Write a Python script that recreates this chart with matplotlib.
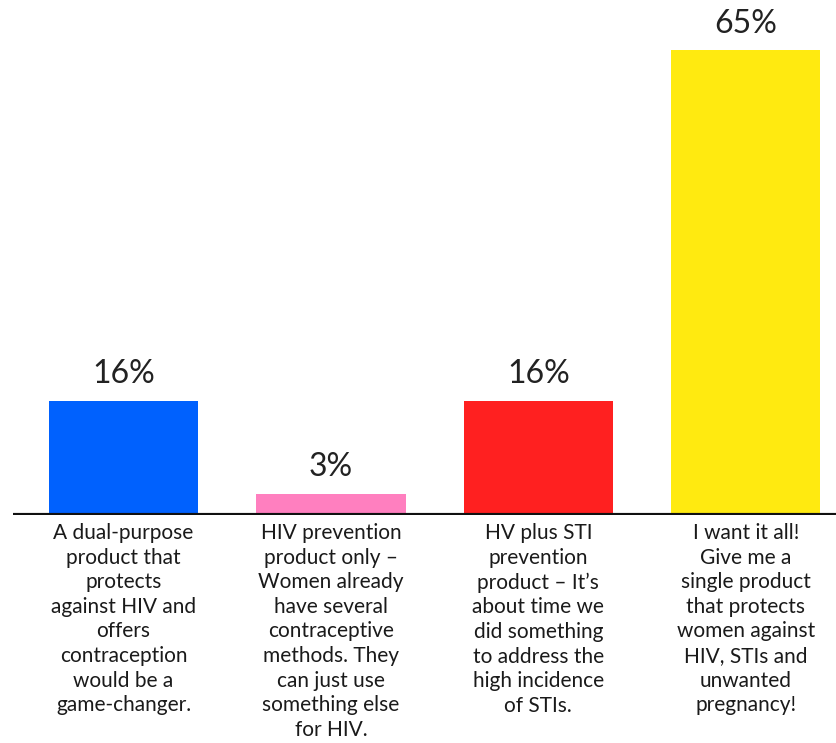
import numpy as np
import matplotlib.pyplot as plt

# chart data
labels = [
    "A dual-purpose\nproduct that\nprotects\nagainst HIV and\noffers\ncontraception\nwould be a\ngame-changer.",
    "HIV prevention\nproduct only \u2013\nWomen already\nhave several\ncontraceptive\nmethods. They\ncan just use\nsomething else\nfor HIV.",
    "HV plus STI\nprevention\nproduct \u2013 It\u2019s\nabout time we\ndid something\nto address the\nhigh incidence\nof STIs.",
    "I want it all!\nGive me a\nsingle product\nthat protects\nwomen against\nHIV, STIs and\nunwanted\npregnancy!",
]
values = [16, 3, 16, 65]
colors = ["#0061fe", "#ff7fbf", "#ff2020", "#ffea10"]

plt.rcParams['font.family'] = ['Lato', 'DejaVu Sans']

fig = plt.figure(figsize=(8.37, 7.43), dpi=100)
ax = fig.add_axes([13 / 837, 228 / 743, 824 / 837, 515 / 743])

x = np.arange(len(values))
bars = ax.bar(x, values, width=0.72, color=colors)

for b, v in zip(bars, values):
    ax.annotate(f"{v}%", (b.get_x() + b.get_width() / 2, v),
                xytext=(0, 8), textcoords="offset points",
                ha="center", va="bottom", fontsize=23, color="#222222")

for xi, lab in zip(x, labels):
    ax.text(xi, -1.1, lab, ha="center", va="top", fontsize=15,
            color="#1a1a1a", linespacing=1.29, clip_on=False)

ax.set_xlim(-0.533, 3.44)
ax.set_ylim(0, 72)
ax.axhline(0, color="#111111", lw=3, zorder=5)
for s in ax.spines.values():
    s.set_visible(False)
ax.set_xticks([])
ax.set_yticks([])

fig.savefig("out.png", dpi=100)
